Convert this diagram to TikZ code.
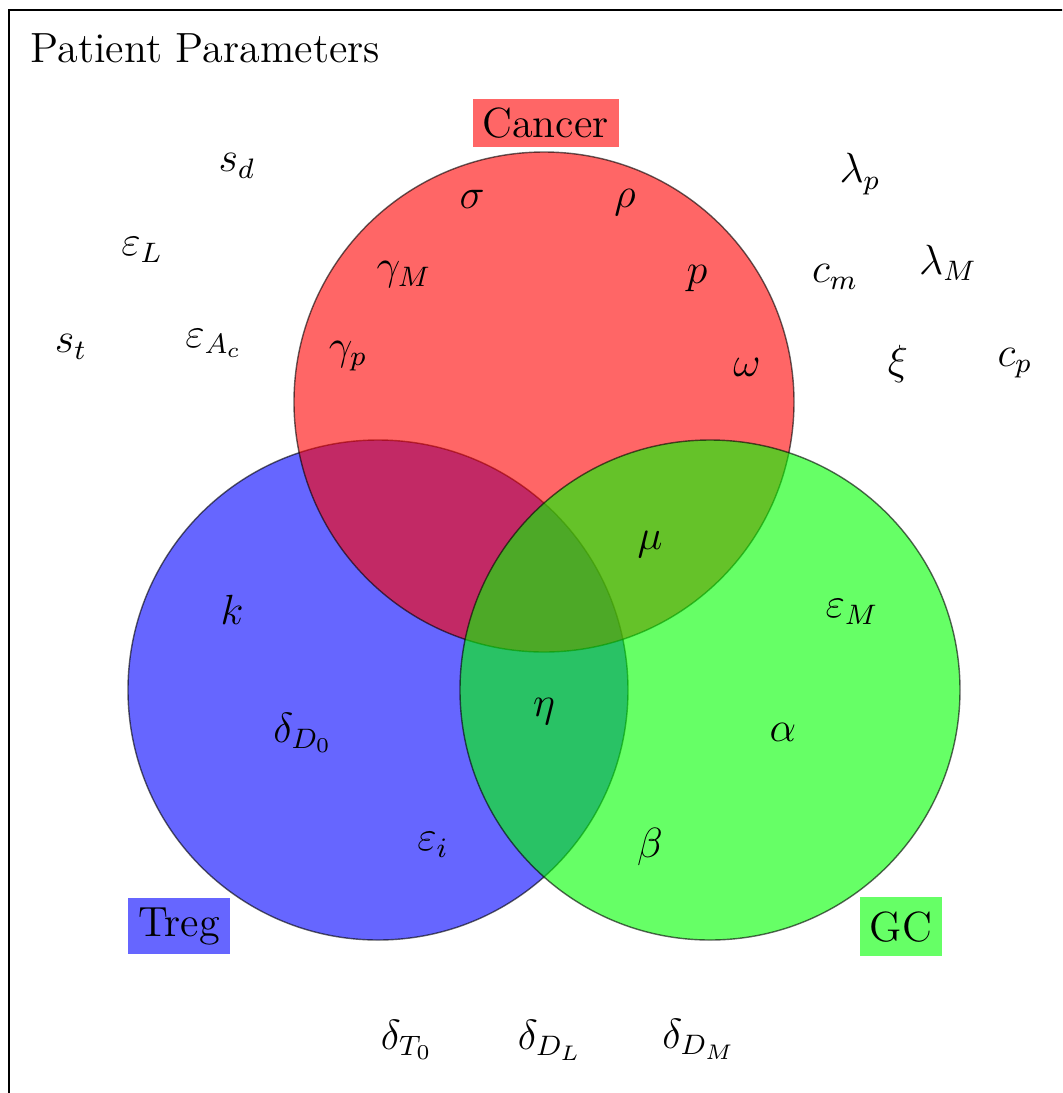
\documentclass[tikz,border=0pt]{standalone}
\begin{document}
\begin{tikzpicture}[x=0.01cm,y=-0.01cm,
  lbl/.style={font=\large, inner sep=0pt},
  setbox/.style={font=\large, inner sep=0pt, anchor=center},
  setcirc/.style={fill opacity=0.6, draw opacity=0.6, line width=0.4pt}]
\useasboundingbox (0,0) rectangle (1062,1093);
\begin{scope}
\clip (0,0) rectangle (1062,1093);
\draw[line width=0.5pt] (9,10) rectangle (1080,1110);
\end{scope}
\node[lbl, anchor=base west] (title) at (30,62) {Patient Parameters};
% circles
\node[setcirc, circle, draw=black, fill=blue, minimum size=500*0.01cm] (treg) at (378,690) {};
\node[setcirc, circle, draw=black, fill=red, minimum size=500*0.01cm] (cancer) at (544,402) {};
\node[setcirc, circle, draw=black, fill=green, minimum size=500*0.01cm] (gc) at (710,690) {};
% set labels
\node[setbox, fill=red!60, minimum width=146*0.01cm, minimum height=48*0.01cm] (lcancer) at (545.5,123.3) {Cancer};
\node[setbox, fill=blue!60, minimum width=102*0.01cm, minimum height=56*0.01cm] (ltreg) at (179,926.3) {Treg};
\node[setbox, fill=green!60, minimum width=82*0.01cm, minimum height=59*0.01cm] (lgc) at (901,926.7) {GC};
% outside
\node[lbl] (sd) at (237,166) {$s_d$};
\node[lbl] (epsL) at (142,250) {$\varepsilon_L$};
\node[lbl] (st) at (71,347) {$s_t$};
\node[lbl] (epsAc) at (214,343) {$\varepsilon_{A_c}$};
\node[lbl] (lamp) at (860,174) {$\lambda_p$};
\node[lbl] (cm) at (835,277) {$c_m$};
\node[lbl] (lamM) at (948,263) {$\lambda_M$};
\node[lbl] (xi) at (898,364) {$\xi$};
\node[lbl] (cp) at (1015,363) {$c_p$};
% cancer
\node[lbl] (sigma) at (472,199) {$\sigma$};
\node[lbl] (rho) at (625,203) {$\rho$};
\node[lbl] (gamM) at (404,275) {$\gamma_M$};
\node[lbl] (p) at (697,279) {$p$};
\node[lbl] (gamp) at (348,356) {$\gamma_p$};
\node[lbl] (omega) at (747,367) {$\omega$};
% intersections
\node[lbl] (mu) at (650,545) {$\mu$};
\node[lbl] (eta) at (544,712) {$\eta$};
% treg
\node[lbl] (k) at (232,610) {$k$};
\node[lbl] (dD0) at (303,733) {$\delta_{D_0}$};
\node[lbl] (epsi) at (433,845) {$\varepsilon_i$};
% gc
\node[lbl] (epsM) at (852,612) {$\varepsilon_M$};
\node[lbl] (alpha) at (783,732) {$\alpha$};
\node[lbl] (beta) at (650,847) {$\beta$};
% bottom
\node[lbl] (dT0) at (407,1040) {$\delta_{T_0}$};
\node[lbl] (dDL) at (550,1040) {$\delta_{D_L}$};
\node[lbl] (dDM) at (699,1039) {$\delta_{D_M}$};
\end{tikzpicture}
\end{document}
